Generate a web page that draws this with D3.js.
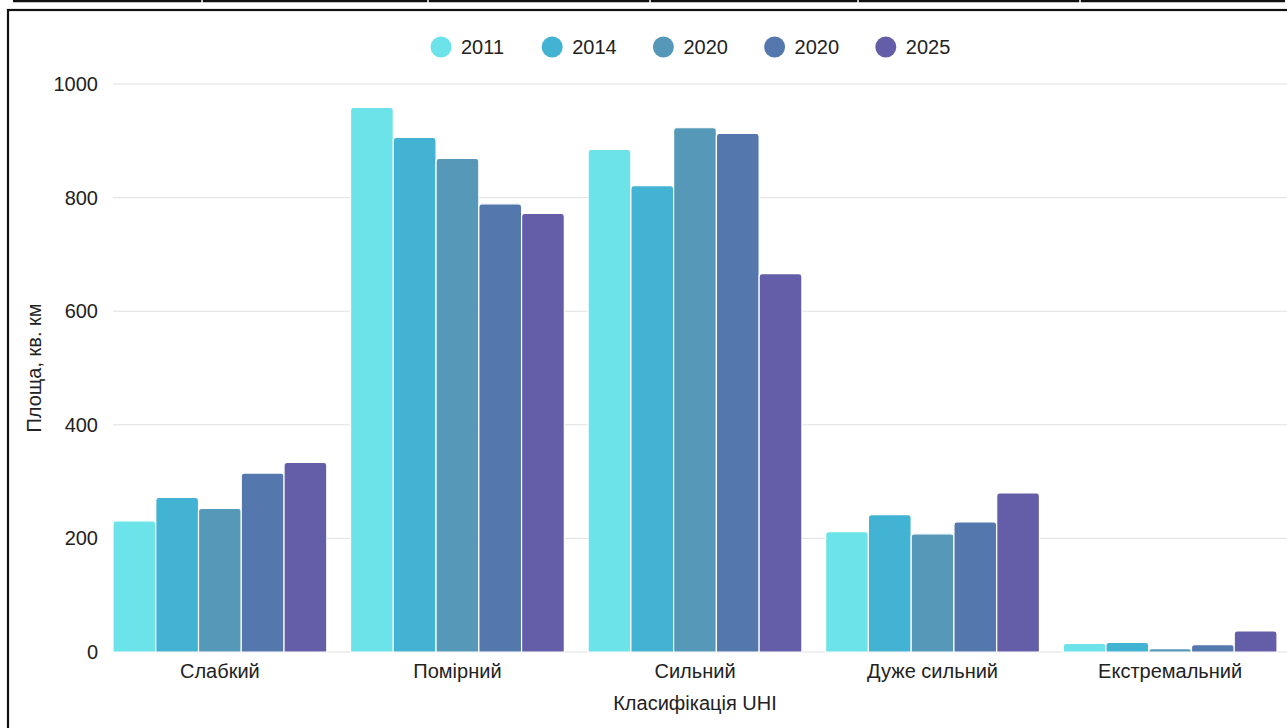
<!DOCTYPE html>
<html>
<head>
<meta charset="utf-8">
<script src="https://cdn.jsdelivr.net/npm/d3@7"></script>
<style>
  html, body { margin: 0; padding: 0; background: #fff; }
  svg { display: block; font-family: "Liberation Sans", Arial, sans-serif; }
</style>
</head>
<body>
<svg id="chart" width="1287" height="728"></svg>
<script>
// UHI class areas (sq. km) per survey year
const categories = ["Слабкий", "Помірний", "Сильний", "Дуже сильний", "Екстремальний"];
const seriesNames = ["2011", "2014", "2020", "2020", "2025"];
const seriesColors = ["#6be3e8", "#42b3d2", "#5698b8", "#5478ad", "#645ea9"];
const values2011 = [231, 959, 885, 212, 15];
const values2014 = [272, 906, 821, 242, 17];
const values2020a = [253, 869, 923, 208, 6];
const values2020b = [315, 789, 913, 229, 13];
const values2025 = [334, 772, 666, 280, 37];
const yTicks = [0, 200, 400, 600, 800, 1000];

const series = [values2011, values2014, values2020a, values2020b, values2025];
const fontSize = 20;

const svg = d3.select("#chart");

// page frame and table rule above it
svg.append("rect")
  .attr("x", 8).attr("y", 10)
  .attr("width", 1300).attr("height", 740)
  .attr("fill", "none").attr("stroke", "#111").attr("stroke-width", 2.2);
svg.append("line")
  .attr("x1", 13).attr("x2", 1285).attr("y1", 1).attr("y2", 1)
  .attr("stroke", "#111").attr("stroke-width", 2.5);
[202, 428, 650, 858, 1080].forEach(x => {
  svg.append("line")
    .attr("x1", x).attr("x2", x).attr("y1", 0).attr("y2", 3)
    .attr("stroke", "#fff").attr("stroke-width", 1.5);
});

const plotLeft = 113, plotRight = 1277, plotTop = 84, plotBottom = 652;

const x0 = d3.scaleBand().domain(d3.range(categories.length))
  .range([plotLeft, plotRight]).paddingInner(0.1).paddingOuter(0);
const x1 = d3.scaleBand().domain(d3.range(series.length))
  .range([0, x0.bandwidth()]).padding(0);
const y = d3.scaleLinear().domain([0, 1000]).range([plotBottom, plotTop]);

// horizontal grid
svg.append("g")
  .selectAll("line")
  .data(yTicks)
  .join("line")
  .attr("x1", plotLeft).attr("x2", 1287)
  .attr("y1", d => y(d)).attr("y2", d => y(d))
  .attr("stroke", "#e0e0e0").attr("stroke-width", 1);

// y axis labels
const yAxis = d3.axisLeft(y).tickValues(yTicks).tickFormat(d3.format("d"))
  .tickSize(0).tickPadding(0);
const gy = svg.append("g").attr("transform", `translate(${plotLeft - 15},0)`).call(yAxis);
gy.select(".domain").remove();
gy.selectAll("text")
  .attr("font-size", fontSize).attr("fill", "#222")
  .attr("font-family", "'Liberation Sans', Arial, sans-serif");

// rounded-top bar path
function barPath(x, yTop, w, h, r) {
  r = Math.min(r, h, w / 2);
  return `M${x},${yTop + h}V${yTop + r}Q${x},${yTop} ${x + r},${yTop}` +
    `H${x + w - r}Q${x + w},${yTop} ${x + w},${yTop + r}V${yTop + h}Z`;
}

const bars = [];
categories.forEach((c, ci) => {
  series.forEach((s, si) => {
    bars.push({ ci, si, v: s[ci] });
  });
});

svg.append("g")
  .selectAll("path")
  .data(bars)
  .join("path")
  .attr("d", d => {
    const bx = x0(d.ci) + x1(d.si);
    const yt = y(d.v);
    return barPath(bx, yt, x1.bandwidth(), plotBottom - yt, 3);
  })
  .attr("fill", d => seriesColors[d.si])
  .attr("stroke", "#fff").attr("stroke-width", 1.2);

// x axis labels
const xAxis = d3.axisBottom(x0).tickFormat(i => categories[i]).tickSize(0).tickPadding(0);
const gx = svg.append("g").attr("transform", `translate(0,${plotBottom + 26})`).call(xAxis);
gx.select(".domain").remove();
gx.selectAll("text")
  .attr("dy", 0)
  .attr("font-size", fontSize).attr("fill", "#222")
  .attr("font-family", "'Liberation Sans', Arial, sans-serif");

// axis titles
svg.append("text")
  .attr("x", 695).attr("y", 710)
  .attr("text-anchor", "middle")
  .attr("font-size", fontSize).attr("fill", "#222")
  .text("Класифікація UHI");
svg.append("text")
  .attr("transform", "translate(41,368) rotate(-90)")
  .attr("text-anchor", "middle")
  .attr("font-size", fontSize).attr("fill", "#222")
  .text("Площа, кв. км");

// legend
const legend = svg.append("g").attr("transform", "translate(441,47)");
const items = legend.selectAll("g")
  .data(seriesNames)
  .join("g")
  .attr("transform", (d, i) => `translate(${i * 111.2},0)`);
items.append("circle").attr("r", 10.5).attr("fill", (d, i) => seriesColors[i]);
items.append("text")
  .attr("x", 20).attr("y", 7)
  .attr("font-size", fontSize).attr("fill", "#222")
  .text(d => d);
</script>
</body>
</html>
